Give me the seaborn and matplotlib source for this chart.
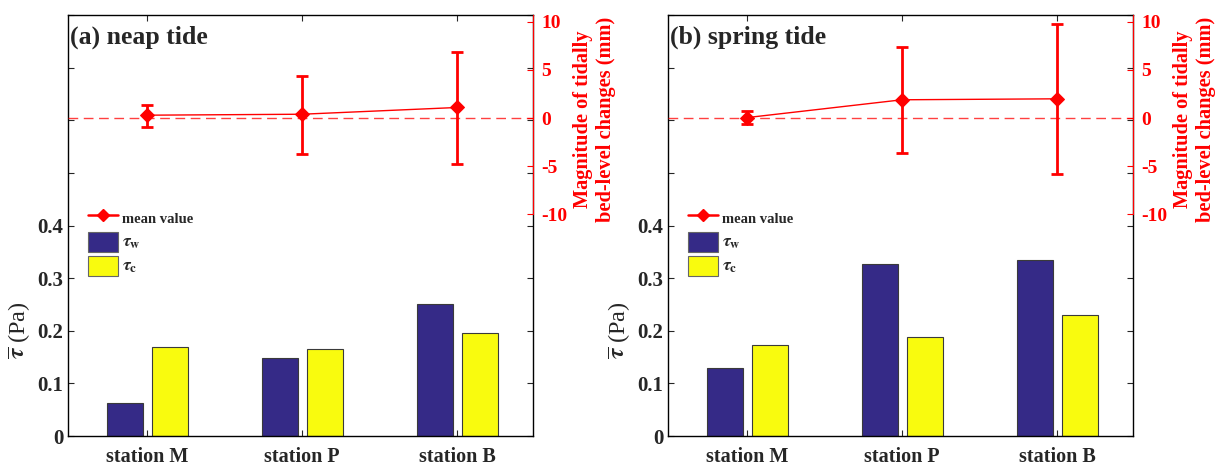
import numpy as np
import pandas as pd
import matplotlib
matplotlib.use("Agg")
import matplotlib.pyplot as plt
from matplotlib.lines import Line2D
from matplotlib.patches import Patch
import seaborn as sns

# ---------------- data ----------------
stations = ["station M", "station P", "station B"]
series_names = ["tau_w", "tau_c"]
legend_labels = ["mean value", r"$\tau_{\mathbf{w}}$", r"$\tau_{\mathbf{c}}$"]
panel_titles = ["(a) neap tide", "(b) spring tide"]

tau_w_neap = [0.062, 0.148, 0.250]
tau_c_neap = [0.170, 0.165, 0.196]
tau_w_spring = [0.130, 0.327, 0.334]
tau_c_spring = [0.172, 0.188, 0.230]

bed_mean_neap = [0.3, 0.4, 1.1]
bed_low_neap = [-0.9, -3.7, -4.8]
bed_high_neap = [1.35, 4.35, 6.85]

bed_mean_spring = [0.05, 1.9, 2.0]
bed_low_spring = [-0.65, -3.6, -5.8]
bed_high_spring = [0.7, 7.4, 9.8]

left_ticks = [0, 0.1, 0.2, 0.3, 0.4, 0.5, 0.6, 0.7, 0.8]
left_ticklabels = ["0", "0.1", "0.2", "0.3", "0.4", "", "", "", ""]
right_ticks = [-10, -5, 0, 5, 10]

# ---------------- style ----------------
sns.set_style("white")
plt.rcParams["font.family"] = ["Liberation Serif", "DejaVu Serif"]
plt.rcParams["font.weight"] = "bold"
plt.rcParams["mathtext.fontset"] = "stix"

BLUE = "#352A87"
YELLOW = "#F9FB0E"
RED = "#FF0000"

fig = plt.figure(figsize=(12.19, 4.67), dpi=100)
W, H = 1219, 467

panels = [
    (68, tau_w_neap, tau_c_neap, bed_mean_neap, bed_low_neap, bed_high_neap, panel_titles[0]),
    (668, tau_w_spring, tau_c_spring, bed_mean_spring, bed_low_spring, bed_high_spring, panel_titles[1]),
]

for left_px, tw, tc, bm, bl, bh, title in panels:
    ax = fig.add_axes([left_px / W, (H - 436) / H, 465 / W, 421 / H])
    df = pd.DataFrame({
        "station": stations * 2,
        "type": [series_names[0]] * 3 + [series_names[1]] * 3,
        "value": list(tw) + list(tc),
    })
    sns.barplot(data=df, x="station", y="value", hue="type",
                palette=[BLUE, YELLOW], saturation=1, width=0.58, gap=0.2,
                edgecolor="#3a3a3a", linewidth=0.8, ax=ax, legend=False)
    ax.set_xlim(-0.51, 2.49)
    ax.set_ylim(0, 0.8)
    ax.set_yticks(left_ticks)
    ax.set_yticklabels(left_ticklabels)
    ax.set_xlabel("")
    ax.set_ylabel(r"$\overline{\tau}$ (Pa)", fontsize=17.5, fontweight="normal")
    ax.yaxis.set_label_coords(-0.078, 0.25)
    for s in ax.spines.values():
        s.set_visible(True)
        s.set_color("black")
        s.set_linewidth(1.0)
    ax.text(0.005, 0.975, title, transform=ax.transAxes, ha="left", va="top",
            fontsize=18.5, fontweight="bold")

    ax2 = ax.twinx()
    ax2.set_ylim(-33, 10.7)
    ax2.axhline(0, color=RED, ls=(0, (7, 4)), lw=1.0, alpha=0.75)
    xs = np.arange(len(stations))
    mean_arr = np.array(bm)
    yerr = np.vstack([mean_arr - np.array(bl), np.array(bh) - mean_arr])
    ax2.errorbar(xs, mean_arr, yerr=yerr, fmt="none", ecolor=RED,
                 elinewidth=2.0, capsize=4, capthick=2.0)
    sns.lineplot(x=xs, y=mean_arr, ax=ax2, color=RED, marker="D",
                 markersize=7, markeredgecolor=RED, linewidth=1.0)
    ax2.set_yticks(right_ticks)
    ax2.set_yticklabels([str(t) for t in right_ticks])
    ax2.tick_params(axis="y", colors=RED, direction="in", length=4,
                    labelsize=14, pad=6)
    for lbl in ax2.get_yticklabels():
        lbl.set_color(RED)
        lbl.set_fontweight("bold")
    for k in ["left", "top", "bottom"]:
        ax2.spines[k].set_visible(False)
    ax2.spines["right"].set_color(RED)
    ax2.spines["right"].set_bounds(-10, 10.7)
    ax2.set_ylabel("Magnitude of tidally\nbed-level changes (mm)", color=RED,
                   fontsize=14.7, fontweight="bold", linespacing=1.2)
    ax2.yaxis.set_label_coords(1.086, 0.753)

    ax.tick_params(axis="both", direction="in", length=4, labelsize=15,
                   top=True, right=True, left=True, bottom=True,
                   labelright=False)
    ax.tick_params(axis="x", pad=8, labelsize=14.5)
    for lbl in ax.get_xticklabels() + ax.get_yticklabels():
        lbl.set_fontweight("bold")

    handles = [
        Line2D([], [], color=RED, marker="D", markersize=6, linewidth=1.8),
        Patch(facecolor=BLUE, edgecolor="#666666", linewidth=0.8),
        Patch(facecolor=YELLOW, edgecolor="#666666", linewidth=0.8),
    ]
    leg = ax.legend(handles, legend_labels, loc="upper left",
                    bbox_to_anchor=(0.03, 0.555), frameon=False,
                    prop={"family": "Liberation Serif", "weight": "bold", "size": 10.5},
                    handlelength=2.1, handleheight=1.7, labelspacing=0.3,
                    handletextpad=0.25, borderaxespad=0.0)
    for t in leg.get_texts()[1:]:
        t.set_fontsize(13)

fig.savefig("out.png", dpi=100)
